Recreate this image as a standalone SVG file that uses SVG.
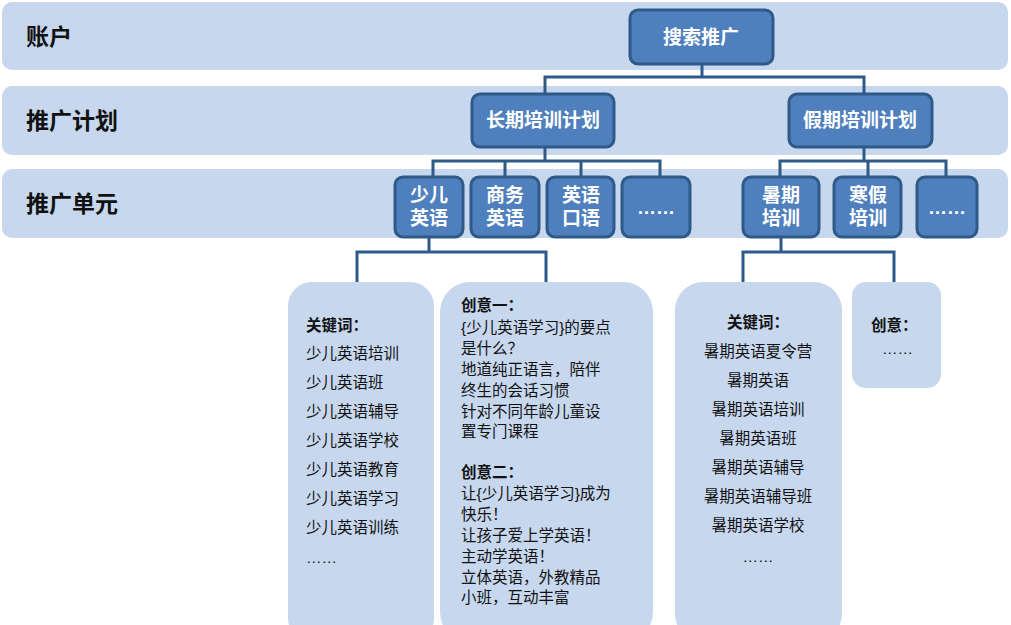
<svg xmlns="http://www.w3.org/2000/svg" width="1011" height="625" viewBox="0 0 1011 625">
<style>
.band{fill:#c6d7ee}
.node rect{fill:#4f80bd;stroke:#2e5a8a;stroke-width:3}
.node text{fill:#fff;font-family:"Liberation Sans","Noto Sans CJK SC",sans-serif;font-weight:bold;font-size:19px;text-anchor:middle}
.lbl{font-family:"Liberation Sans","Noto Sans CJK SC",sans-serif;font-weight:bold;font-size:23px;fill:#111}
.box{fill:#c6d7ee}
.t{font-family:"Liberation Sans","Noto Sans CJK SC",sans-serif;font-size:15.5px;fill:#111}
.b{font-weight:bold}
#connectors path{fill:none;stroke:#2e5a8a;stroke-width:3}
</style>
<rect class="band" x="2" y="2" width="1006" height="68" rx="10"/>
<rect class="band" x="2" y="86" width="1006" height="69" rx="10"/>
<rect class="band" x="2" y="169" width="1006" height="69" rx="10"/>
<text class="lbl" x="26" y="45">账户</text>
<text class="lbl" x="26" y="129">推广计划</text>
<text class="lbl" x="26" y="212">推广单元</text>
<g id="connectors">
<path d="M702 64V77M545 94V77H864V94"/>
<path d="M545 147V161M433 177V161H660V177M505 161V177M581 161V177"/>
<path d="M864 147V161M780 177V161H946V177M868 161V177"/>
<path d="M429 237V252M357 282V252H546V282"/>
<path d="M781 237V252M743 282V252H894V282"/>
</g>
<g id="n-search" class="node"><rect x="630" y="10" width="143" height="54" rx="8"/><text x="701" y="44" font-size="22">搜索推广</text></g>
<g id="n-long" class="node"><rect x="472" y="94" width="142" height="53" rx="8"/><text x="543" y="127">长期培训计划</text></g>
<g id="n-holiday" class="node"><rect x="789" y="94" width="143" height="53" rx="8"/><text x="860" y="127">假期培训计划</text></g>
<g id="n-u1" class="node"><rect x="395" y="177" width="68" height="60" rx="8"/><text x="429" y="202">少儿</text><text x="429" y="225">英语</text></g>
<g id="n-u2" class="node"><rect x="471" y="177" width="68" height="60" rx="8"/><text x="505" y="202">商务</text><text x="505" y="225">英语</text></g>
<g id="n-u3" class="node"><rect x="547" y="177" width="67" height="60" rx="8"/><text x="581" y="202">英语</text><text x="581" y="225">口语</text></g>
<g id="n-u4" class="node"><rect x="622" y="177" width="68" height="60" rx="8"/><text x="656" y="214">……</text></g>
<g id="n-u5" class="node"><rect x="743" y="177" width="76" height="60" rx="8"/><text x="781" y="202">暑期</text><text x="781" y="225">培训</text></g>
<g id="n-u6" class="node"><rect x="834" y="177" width="67" height="60" rx="8"/><text x="868" y="202">寒假</text><text x="868" y="225">培训</text></g>
<g id="n-u7" class="node"><rect x="917" y="177" width="60" height="60" rx="8"/><text x="947" y="214">……</text></g>
<g id="kw1"><rect class="box" x="288" y="282" width="146" height="360" rx="24"/>
<text class="t" x="306"><tspan class="b" y="331">关键词：</tspan><tspan x="306" y="359">少儿英语培训</tspan><tspan x="306" y="388">少儿英语班</tspan><tspan x="306" y="417">少儿英语辅导</tspan><tspan x="306" y="446">少儿英语学校</tspan><tspan x="306" y="475">少儿英语教育</tspan><tspan x="306" y="504">少儿英语学习</tspan><tspan x="306" y="533">少儿英语训练</tspan><tspan x="306" y="563">……</tspan></text></g>
<g id="idea1"><rect class="box" x="440" y="282" width="213" height="360" rx="30"/>
<text class="t" x="461"><tspan class="b" y="311">创意一：</tspan><tspan x="461" y="333">{少儿英语学习}的要点</tspan><tspan x="461" y="354">是什么？</tspan><tspan x="461" y="375">地道纯正语言，陪伴</tspan><tspan x="461" y="396">终生的会话习惯</tspan><tspan x="461" y="417">针对不同年龄儿童设</tspan><tspan x="461" y="437">置专门课程</tspan><tspan class="b" x="461" y="478">创意二：</tspan><tspan x="461" y="499">让{少儿英语学习}成为</tspan><tspan x="461" y="520">快乐！</tspan><tspan x="461" y="541">让孩子爱上学英语！</tspan><tspan x="461" y="562">主动学英语！</tspan><tspan x="461" y="583">立体英语，外教精品</tspan><tspan x="461" y="603">小班，互动丰富</tspan></text></g>
<g id="kw2"><rect class="box" x="675" y="282" width="167" height="360" rx="28"/>
<text class="t" text-anchor="middle" x="758"><tspan class="b" y="328">关键词：</tspan><tspan x="758" y="357">暑期英语夏令营</tspan><tspan x="758" y="386">暑期英语</tspan><tspan x="758" y="415">暑期英语培训</tspan><tspan x="758" y="444">暑期英语班</tspan><tspan x="758" y="473">暑期英语辅导</tspan><tspan x="758" y="502">暑期英语辅导班</tspan><tspan x="758" y="531">暑期英语学校</tspan><tspan x="758" y="562">……</tspan></text></g>
<g id="idea2"><rect class="box" x="852" y="282" width="89" height="106" rx="14"/>
<text class="t b" x="871" y="331">创意：</text><text class="t" x="882" y="354">……</text></g>
</svg>
